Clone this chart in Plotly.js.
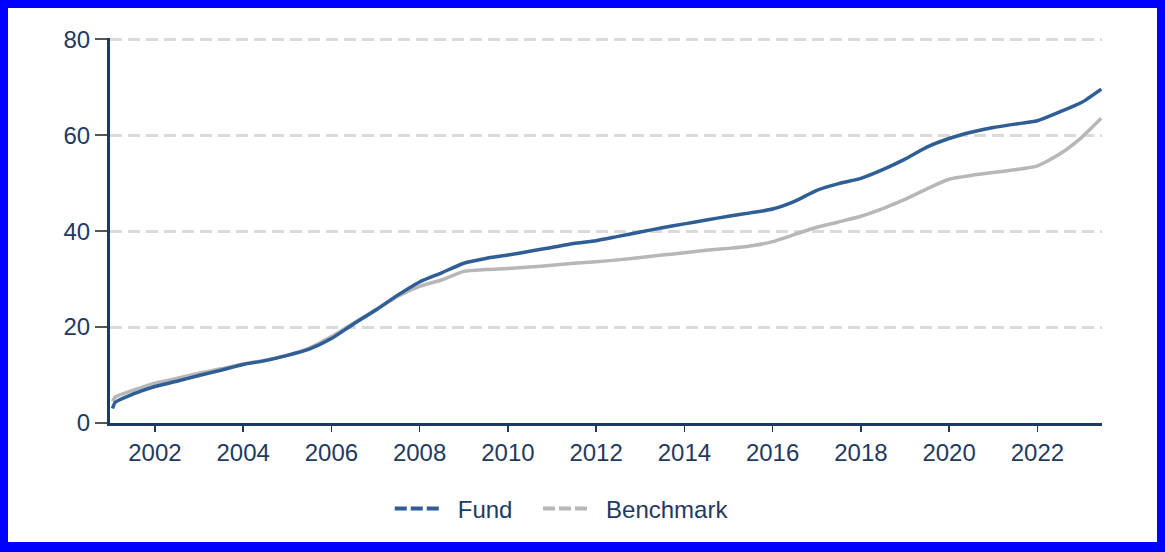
<!DOCTYPE html>
<html>
<head>
<meta charset="utf-8">
<script src="https://cdn.plot.ly/plotly-3.0.1.min.js"></script>
<style>
  html, body { margin: 0; padding: 0; background: #ffffff; }
  #frame { width: 1165px; height: 552px; box-sizing: border-box; border-style: solid; border-color: #0000ff; border-width: 8px 8px 10px 8px; background: #ffffff; overflow: hidden; }
  #chart { width: 1149px; height: 534px; }
</style>
</head>
<body>
<div id="frame"><div id="chart"></div></div>
<script>
const dates = [
  "2001-01-15","2001-02-06","2001-07-01","2002-01-01","2002-07-01","2003-01-01","2003-07-01",
  "2004-01-01","2004-07-01","2005-01-01","2005-07-01","2006-01-01","2006-07-01","2007-01-01",
  "2007-07-01","2008-01-01","2008-07-01","2009-01-01","2009-07-01","2010-01-01","2010-07-01",
  "2011-01-01","2011-07-01","2012-01-01","2012-07-01","2013-01-01","2013-07-01","2014-01-01",
  "2014-07-01","2015-01-01","2015-07-01","2016-01-01","2016-07-01","2017-01-01","2017-07-01",
  "2018-01-01","2018-07-01","2019-01-01","2019-07-01","2020-01-01","2020-07-01","2021-01-01",
  "2021-07-01","2022-01-01","2022-07-01","2023-01-01","2023-06-14"
];
const fund = [
  3.0, 4.3, 6.0, 7.6, 8.7, 9.9, 11.0,
  12.2, 13.0, 14.1, 15.4, 17.6, 20.6, 23.5,
  26.6, 29.4, 31.3, 33.3, 34.3, 35.0, 35.8,
  36.6, 37.4, 38.0, 38.9, 39.8, 40.7, 41.5,
  42.3, 43.1, 43.8, 44.6, 46.2, 48.5, 49.9,
  51.0, 52.8, 55.0, 57.5, 59.3, 60.6, 61.6,
  62.3, 63.0, 64.8, 66.8, 69.6
];
const benchmark = [
  4.5, 5.4, 6.8, 8.3, 9.3, 10.4, 11.3,
  12.3, 13.1, 14.1, 15.6, 18.0, 20.8, 23.6,
  26.4, 28.5, 29.8, 31.6, 32.0, 32.2, 32.5,
  32.9, 33.3, 33.6, 34.0, 34.5, 35.0, 35.5,
  36.0, 36.4, 36.9, 37.8, 39.3, 40.8, 41.9,
  43.1, 44.7, 46.6, 48.8, 50.8, 51.6, 52.2,
  52.8, 53.6, 56.0, 59.5, 63.5
];
const seriesNames = ["Fund", "Benchmark"];
const yTicks = [0, 20, 40, 60, 80];
const xTickVals = ["2002-01-01","2004-01-01","2006-01-01","2008-01-01","2010-01-01","2012-01-01","2014-01-01","2016-01-01","2018-01-01","2020-01-01","2022-01-01"];
const xTickText = ["2002","2004","2006","2008","2010","2012","2014","2016","2018","2020","2022"];

const fundColor = "#2f5d96";
const benchColor = "#b7b7b7";
const textColor = "#1f3a60";
const legendDash = "12px,4px,12px,4px,12px,80px";

const traces = [
  { x: dates, y: benchmark, type: "scatter", mode: "lines", name: seriesNames[1], legendgroup: "b",
    showlegend: false, line: { color: benchColor, width: 3.5, shape: "spline", smoothing: 0.6 } },
  { x: dates, y: fund, type: "scatter", mode: "lines", name: seriesNames[0], legendgroup: "f",
    showlegend: false, line: { color: fundColor, width: 3.5, shape: "spline", smoothing: 0.6 } },
  { x: [null], y: [null], type: "scatter", mode: "lines", name: seriesNames[0], legendgroup: "f",
    legend: "legend", line: { color: fundColor, width: 4, dash: legendDash } },
  { x: [null], y: [null], type: "scatter", mode: "lines", name: seriesNames[1], legendgroup: "b",
    legend: "legend2", line: { color: benchColor, width: 4, dash: legendDash } }
];

const legendCommon = {
  orientation: "h", xanchor: "left", y: -0.22, yanchor: "middle",
  itemwidth: 58,
  font: { size: 24, color: textColor }, bgcolor: "rgba(0,0,0,0)"
};

const layout = {
  width: 1149, height: 534,
  margin: { l: 102, r: 55, t: 30, b: 118 },
  paper_bgcolor: "#ffffff", plot_bgcolor: "#ffffff",
  font: { family: "Liberation Sans, Arial, sans-serif", size: 24, color: textColor },
  xaxis: {
    type: "date",
    range: ["2000-12-25", "2023-06-20"],
    tickvals: xTickVals,
    ticktext: xTickText,
    showgrid: false, zeroline: false,
    showline: true, linecolor: "#1f3a5f", linewidth: 3,
    ticks: "outside", ticklen: 6, tickwidth: 1.5, tickcolor: "#1f3a5f",
    tickfont: { size: 24, color: textColor }
  },
  yaxis: {
    range: [0, 80.25],
    tickvals: yTicks,
    showgrid: true, gridcolor: "#dadada", gridwidth: 3, griddash: "12px,6px",
    zeroline: false,
    showline: true, linecolor: "#1f3a5f", linewidth: 3,
    ticks: "outside", ticklen: 12, tickwidth: 1.5, tickcolor: "#555555",
    tickfont: { size: 24, color: textColor }
  },
  showlegend: true,
  legend: Object.assign({}, legendCommon, { x: 0.282 }),
  legend2: Object.assign({}, legendCommon, { x: 0.4315 })
};

Plotly.newPlot("chart", traces, layout, { displayModeBar: false, staticPlot: true });
</script>
</body>
</html>
